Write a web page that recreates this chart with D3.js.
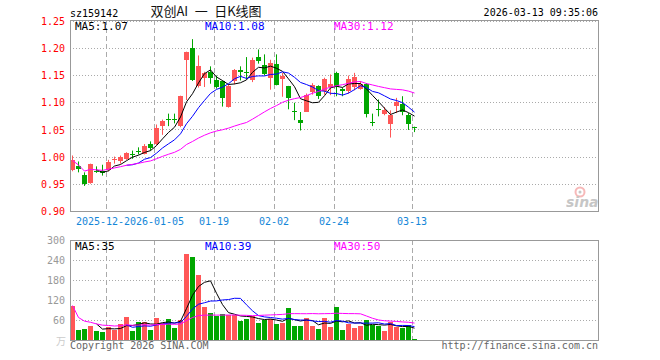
<!DOCTYPE html>
<html>
<head>
<meta charset="utf-8">
<script src="https://d3js.org/d3.v7.min.js"></script>
<style>
  body { margin: 0; background: #fff; }
  text { font-family: "DejaVu Sans Mono", monospace; font-size: 10px; }
</style>
</head>
<body>
<script>
// trading days shown
var dates = ["2025-12-12","2025-12-15","2025-12-16","2025-12-17","2025-12-18","2025-12-19",
  "2025-12-22","2025-12-23","2025-12-24","2025-12-25","2025-12-26","2025-12-29","2025-12-30","2025-12-31",
  "2026-01-05","2026-01-06","2026-01-07","2026-01-08","2026-01-09","2026-01-12","2026-01-13","2026-01-14",
  "2026-01-15","2026-01-16","2026-01-19","2026-01-20","2026-01-21","2026-01-22","2026-01-23","2026-01-26",
  "2026-01-27","2026-01-28","2026-01-29","2026-01-30","2026-02-02","2026-02-03","2026-02-04","2026-02-05",
  "2026-02-06","2026-02-09","2026-02-10","2026-02-11","2026-02-12","2026-02-13","2026-02-24","2026-02-25",
  "2026-02-26","2026-02-27","2026-03-02","2026-03-03","2026-03-04","2026-03-05","2026-03-06","2026-03-09",
  "2026-03-10","2026-03-11","2026-03-12","2026-03-13"];

var open = [0.976,0.983,0.968,0.952,0.975,0.975,0.976,0.994,0.994,0.997,1.006,1.011,1.006,1.025,1.024,1.057,
  1.070,1.070,1.057,1.178,1.200,1.130,1.146,1.157,1.141,1.140,1.093,1.140,1.161,1.156,1.141,1.185,1.170,1.147,
  1.172,1.144,1.130,1.084,1.068,1.084,1.120,1.131,1.121,1.129,1.155,1.126,1.122,1.129,1.126,1.134,1.065,1.088,
  1.079,1.060,1.093,1.097,1.077,1.056];
var high = [1.003,0.992,0.972,0.988,0.983,0.986,0.995,1.001,1.003,1.009,1.012,1.018,1.024,1.029,1.060,1.069,
  1.080,1.080,1.113,1.194,1.217,1.187,1.157,1.167,1.150,1.141,1.134,1.162,1.167,1.184,1.183,1.198,1.189,1.179,
  1.189,1.155,1.131,1.100,1.083,1.117,1.136,1.132,1.146,1.152,1.157,1.128,1.150,1.155,1.140,1.136,1.080,1.106,
  1.092,1.086,1.109,1.112,1.081,1.056];
var low = [0.974,0.972,0.947,0.951,0.971,0.966,0.974,0.988,0.988,0.995,0.997,1.005,1.005,1.012,1.022,1.041,
  1.057,1.062,1.055,1.105,1.140,1.128,1.129,1.135,1.126,1.093,1.091,1.134,1.141,1.143,1.138,1.172,1.150,1.124,
  1.132,1.111,1.088,1.068,1.049,1.083,1.115,1.107,1.115,1.114,1.112,1.112,1.117,1.123,1.124,1.073,1.057,1.075,
  1.077,1.036,1.081,1.077,1.050,1.046];
var close = [0.994,0.977,0.952,0.987,0.973,0.971,0.991,0.996,1.001,1.008,1.004,1.009,1.021,1.018,1.054,1.066,
  1.068,1.069,1.112,1.193,1.141,1.167,1.155,1.146,1.128,1.108,1.131,1.160,1.157,1.154,1.178,1.177,1.154,1.174,
  1.134,1.150,1.108,1.082,1.063,1.115,1.132,1.112,1.143,1.135,1.129,1.122,1.144,1.147,1.135,1.079,1.063,1.086,
  1.087,1.077,1.101,1.083,1.061,1.055];
// volume, 万
var volume = [105,33,36,45,30,27,40,32,51,72,30,56,57,33,69,53,66,39,62,259,252,198,102,84,73,81,78,78,58,66,
  73,54,63,66,51,54,99,43,45,67,45,36,69,40,102,33,50,37,45,63,48,45,30,55,42,37,48,3];

var priceTicks = [1.25,1.20,1.15,1.10,1.05,1.00,0.95,0.90];
var volTicks = [300,240,180,120,60];
var dateTicks = ["2025-12-22","2026-01-05","2026-01-19","2026-02-02","2026-02-24","2026-03-13"];
var dateTickLabels = ["2025-12-22","2026-01-05","01-19","02-02","02-24","03-13"];
var priceLegend = ["MA5:1.07","MA10:1.08","MA30:1.12"];
var volLegend = ["MA5:35","MA10:39","MA30:50"];

var red = "#ff5757", green = "#00a600";
var maColours = ["#000000","#0000ff","#ff00ff"];

var W = 660, H = 360, left = 70, right = 598;

var svg = d3.select("body").append("svg")
  .attr("width", W).attr("height", H);

var x = d3.scaleBand().domain(dates).range([left, left + 6 * dates.length]);
var y = d3.scaleLinear().domain([0.90, 1.25]).range([211.5, 21.2]);
var yv = d3.scaleLinear().domain([0, 300]).range([340.5, 240.5]);

// moving average: short ones need full window, MA30 uses what is there
function ma(arr, n, partial) {
  return arr.map(function(v, i) {
    if (i < n - 1 && !partial) return null;
    var s = arr.slice(Math.max(0, i - n + 1), i + 1);
    return d3.mean(s);
  });
}

function panel(top, bottom, ys, ticks) {
  var g = svg.append("g");
  // horizontal dotted grid
  g.selectAll(".hg").data(ticks.filter(function(t) {
      var p = ys(t); return p > top + 1 && p < bottom - 1; }))
    .enter().append("line")
    .attr("x1", left).attr("x2", right)
    .attr("y1", function(t) { return Math.floor(ys(t)) + 0.5; })
    .attr("y2", function(t) { return Math.floor(ys(t)) + 0.5; })
    .attr("stroke", "#aaa").attr("stroke-dasharray", "1,2");
  // vertical dashed lines
  g.selectAll(".vg").data(dateTicks).enter().append("line")
    .attr("x1", function(d) { return x(d) + 0.5; })
    .attr("x2", function(d) { return x(d) + 0.5; })
    .attr("y1", top).attr("y2", bottom)
    .attr("stroke", "#aaa").attr("stroke-dasharray", "5,3");
  return g;
}

function border(top, bottom) {
  svg.append("rect")
    .attr("x", left + 0.5).attr("y", top + 0.5)
    .attr("width", right - left).attr("height", bottom - top)
    .attr("fill", "none").attr("stroke", "#999");
}

function maLines(g, vals, ys) {
  var sets = [ma(vals, 5), ma(vals, 10), ma(vals, 30, true)];
  sets.forEach(function(s, k) {
    var line = d3.line()
      .defined(function(v) { return v != null; })
      .x(function(v, i) { return x(dates[i]) + 2.5; })
      .y(function(v) { return ys(v); });
    g.append("path").attr("d", line(s))
      .attr("fill", "none").attr("stroke", maColours[k]).attr("stroke-width", 1);
  });
}

function legend(labels, yb) {
  var xs = [75, 205, 334];
  labels.forEach(function(t, k) {
    svg.append("text").attr("x", xs[k]).attr("y", yb)
      .attr("fill", maColours[k]).style("font-size", "11px").text(t);
  });
}

// ---------- price panel ----------
var gp = panel(20, 211, y, priceTicks);

var days = dates.map(function(d, i) {
  return {d: d, o: open[i], h: high[i], l: low[i], c: close[i], v: volume[i]};
});
function col(k) { return k.c >= k.o ? red : green; }

var candles = gp.selectAll(".k").data(days).enter().append("g");
candles.append("line")
  .attr("x1", function(k) { return x(k.d) + 2.5; })
  .attr("x2", function(k) { return x(k.d) + 2.5; })
  .attr("y1", function(k) { return y(k.h); })
  .attr("y2", function(k) { return y(k.l); })
  .attr("stroke", col);
candles.append("rect")
  .attr("x", function(k) { return x(k.d); })
  .attr("width", 5)
  .attr("y", function(k) { return Math.round(y(Math.max(k.o, k.c))); })
  .attr("height", function(k) {
    return Math.max(1, Math.round(Math.abs(y(k.o) - y(k.c)))); })
  .attr("fill", col)
  .attr("shape-rendering", "crispEdges");

maLines(gp, close, y);
border(20, 211);

svg.append("g")
  .attr("transform", "translate(" + left + ",0)")
  .call(d3.axisLeft(y).tickValues(priceTicks).tickFormat(d3.format(".2f"))
    .tickSize(0).tickPadding(5))
  .call(function(a) { a.select(".domain").remove(); })
  .selectAll("text").attr("fill", "#f00").style("font-size", "10px")
  .style("font-family", '"DejaVu Sans Mono", monospace');

// date labels, later one covers the earlier
dateTicks.forEach(function(d, i) {
  var t = svg.append("text").attr("x", x(d)).attr("y", 225)
    .attr("text-anchor", "middle").attr("fill", "#1486d8")
    .style("font-size", "10px").text(dateTickLabels[i]);
  var b = t.node().getBBox();
  svg.insert("rect", function() { return t.node(); })
    .attr("x", b.x).attr("y", b.y).attr("width", b.width).attr("height", b.height)
    .attr("fill", "#fff");
});

legend(priceLegend, 29.5);

// sina logo
var logo = svg.append("g").attr("opacity", 0.55);
logo.append("circle").attr("cx", 580).attr("cy", 192).attr("r", 4.5)
  .attr("fill", "none").attr("stroke", "#f28080").attr("stroke-width", 2);
logo.append("circle").attr("cx", 580).attr("cy", 192).attr("r", 1.5).attr("fill", "#999");
logo.append("text").attr("x", 566).attr("y", 207)
  .style("font-family", "'DejaVu Sans', sans-serif").style("font-size", "14px")
  .style("font-style", "italic").style("font-weight", "bold")
  .attr("fill", "#999").text("sina");

// ---------- volume panel ----------
var gv = panel(240, 340, yv, volTicks);
gv.selectAll(".vb").data(days).enter().append("rect")
  .attr("x", function(k) { return x(k.d); })
  .attr("width", 5)
  .attr("y", function(k) { return Math.round(yv(k.v)); })
  .attr("height", function(k) { return 341 - Math.round(yv(k.v)); })
  .attr("fill", col)
  .attr("shape-rendering", "crispEdges");
maLines(gv, volume, yv);
border(240, 340);

svg.append("g")
  .attr("transform", "translate(" + left + ",0)")
  .call(d3.axisLeft(yv).tickValues(volTicks).tickSize(0).tickPadding(5))
  .call(function(a) { a.select(".domain").remove(); })
  .selectAll("text").attr("fill", "#999").style("font-size", "10px")
  .style("font-family", '"DejaVu Sans Mono", monospace');
svg.append("text").attr("x", 66).attr("y", 345).attr("text-anchor", "end")
  .attr("fill", "#ccc").style("font-family", '"Noto Sans CJK SC", sans-serif')
  .style("font-size", "10px").text("万");

legend(volLegend, 249.5);

// ---------- header & footer ----------
svg.append("text").attr("x", 70).attr("y", 16.5).attr("fill", "#000")
  .style("font-size", "10px").text("sz159142");
svg.append("text").attr("x", 206).attr("y", 16).attr("text-anchor", "middle")
  .attr("fill", "#111").style("font-family", '"Noto Sans CJK SC", sans-serif')
  .style("font-size", "13px").style("white-space", "pre")
  .text("双创AI\u2002一\u2002日K线图");
svg.append("text").attr("x", 598).attr("y", 16).attr("text-anchor", "end")
  .attr("fill", "#000").style("font-size", "10px").text("2026-03-13 09:35:06");
svg.append("text").attr("x", 70).attr("y", 349).attr("fill", "#666")
  .style("font-size", "10px").text("Copyright 2026 SINA.COM");
svg.append("text").attr("x", 598).attr("y", 349).attr("text-anchor", "end")
  .attr("fill", "#666").style("font-size", "10px").text("http://finance.sina.com.cn");
</script>
</body>
</html>
